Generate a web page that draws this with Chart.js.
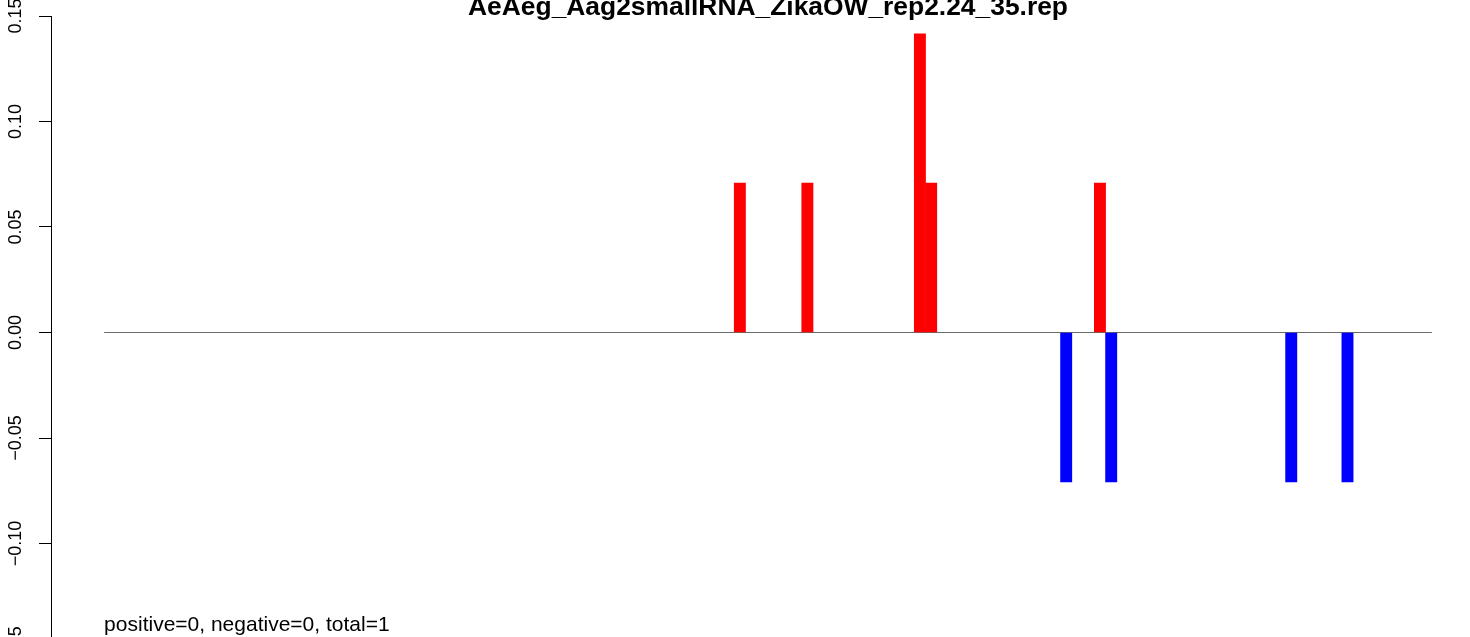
<!DOCTYPE html>
<html>
<head>
<meta charset="utf-8">
<script src="https://cdn.jsdelivr.net/npm/chart.js@4.4.0/dist/chart.umd.min.js"></script>
<style>
  html, body { margin: 0; padding: 0; background: #fff; overflow: hidden; }
  #wrap { width: 1490px; height: 660px; }
</style>
</head>
<body>
<div id="wrap"><canvas id="chart" width="1490" height="660"></canvas></div>
<script>
// Chart data (bar numbers are 1-based positions along the x axis)
const chartTitle = 'AeAeg_Aag2smallRNA_ZikaOW_rep2.24_35.rep';
const footNote = 'positive=0, negative=0, total=1';
const nBars = 118;
const posBars = [57, 63, 73, 74, 89];
const posValues = [0.0708, 0.0708, 0.1416, 0.0708, 0.0708];
const negBars = [86, 90, 106, 111];
const negValues = [-0.0708, -0.0708, -0.0708, -0.0708];
const yTicks = [-0.15, -0.10, -0.05, 0.00, 0.05, 0.10, 0.15];

const FONT = '"Liberation Sans", Arial, Helvetica, sans-serif';

function fmt(v) {
  return v.toFixed(2).replace('-', '\u2212');
}

// R style rotated tick labels, title and footnote
const rText = {
  id: 'rText',
  afterDraw(chart) {
    const { ctx, chartArea } = chart;
    const x = chart.scales.x;
    const y = chart.scales.y;
    ctx.save();
    ctx.fillStyle = '#000';
    ctx.font = '18px ' + FONT;
    ctx.textAlign = 'center';
    ctx.textBaseline = 'alphabetic';
    y.ticks.forEach(t => {
      ctx.save();
      ctx.translate(21, y.getPixelForValue(t.value));
      ctx.rotate(-Math.PI / 2);
      ctx.fillText(fmt(t.value), 0, 0);
      ctx.restore();
    });

    ctx.font = 'bold 26.4px ' + FONT;
    ctx.fillText(chartTitle, (chartArea.left + chartArea.right) / 2, 15);

    ctx.textAlign = 'left';
    ctx.font = '21px ' + FONT;
    ctx.fillText(footNote, x.getPixelForValue(0), 631);
    ctx.restore();
  }
};

const ctx = document.getElementById('chart').getContext('2d');

new Chart(ctx, {
  type: 'bar',
  data: {
    datasets: [
      {
        type: 'bar',
        data: posBars.map((k, i) => ({ x: k - 0.5, y: posValues[i] })),
        backgroundColor: '#ff0000',
        barPercentage: 1,
        categoryPercentage: 1,
        grouped: false,
        order: 1
      },
      {
        type: 'bar',
        data: negBars.map((k, i) => ({ x: k - 0.5, y: negValues[i] })),
        backgroundColor: '#0000ff',
        barPercentage: 1,
        categoryPercentage: 1,
        grouped: false,
        order: 1
      },
      {
        type: 'line',
        data: [{ x: 0, y: 0 }, { x: nBars, y: 0 }],
        borderColor: '#6b6b6b',
        borderWidth: 1,
        pointRadius: 0,
        order: 3
      }
    ]
  },
  options: {
    responsive: false,
    animation: false,
    events: [],
    layout: { padding: { left: 0, top: 16, right: 5, bottom: 11 } },
    plugins: {
      legend: { display: false },
      tooltip: { enabled: false },
      title: { display: false }
    },
    scales: {
      x: {
        type: 'linear',
        display: false,
        offset: false,
        min: -0.04 * nBars,
        max: nBars * 1.04,
        ticks: { stepSize: 20 }
      },
      y: {
        min: -0.15,
        max: 0.15,
        afterBuildTicks(s) { s.ticks = yTicks.map(v => ({ value: v })); },
        afterFit(s) { s.width = 51; },
        grid: { drawOnChartArea: false, drawTicks: true, tickLength: 12, color: '#000', lineWidth: 1 },
        border: { display: true, color: '#000', width: 1 },
        ticks: { display: false }
      }
    }
  },
  plugins: [rText]
});
</script>
</body>
</html>
